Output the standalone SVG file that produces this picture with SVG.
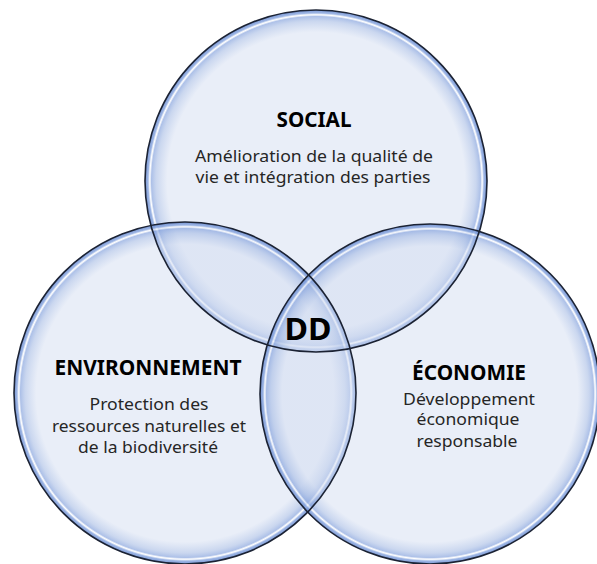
<svg xmlns="http://www.w3.org/2000/svg" width="597" height="564" viewBox="0 0 597 564">
<defs>
<radialGradient id="disk" cx="0.5" cy="0.5" r="0.5">
<stop offset="0" stop-color="#D3DDF1" stop-opacity="0.5"/>
<stop offset="0.87" stop-color="#D3DDF1" stop-opacity="0.5"/>
<stop offset="0.935" stop-color="#9FB6E2" stop-opacity="0.55"/>
<stop offset="0.962" stop-color="#8AA6DE" stop-opacity="0.7"/>
<stop offset="0.972" stop-color="#FFFFFF" stop-opacity="0.6"/>
<stop offset="0.982" stop-color="#86A4DE" stop-opacity="0.8"/>
<stop offset="1" stop-color="#6A8BCF" stop-opacity="0.9"/>
</radialGradient>
<circle id="cSocial" cx="316" cy="181" r="171"/>
<circle id="cEnv" cx="185" cy="393" r="171"/>
<circle id="cEco" cx="430" cy="394" r="170"/>
</defs>
<style>
.disk{fill:url(#disk)}
.outline{fill:none;stroke:#1B2233;stroke-width:1.6}
.title{font-family:"Noto Sans","Open Sans",sans-serif;font-weight:bold;font-size:20.5px;fill:#000;text-anchor:middle}
.body{font-family:"Noto Sans","Open Sans",sans-serif;font-size:16px;fill:#262626;text-anchor:middle}
.dd{font-family:"Noto Sans","Open Sans",sans-serif;font-weight:bold;font-size:31px;fill:#000;text-anchor:middle}
</style>
<rect width="597" height="564" fill="#FFFFFF"/>
<g id="social">
<use href="#cSocial" class="disk"/>
<text class="title" x="314" y="127" textLength="75" lengthAdjust="spacingAndGlyphs">SOCIAL</text>
<text class="body" x="314" y="162" textLength="238" lengthAdjust="spacingAndGlyphs">Amélioration de la qualité de</text>
<text class="body" x="313" y="183" textLength="235" lengthAdjust="spacingAndGlyphs">vie et intégration des parties</text>
</g>
<g id="environnement">
<use href="#cEnv" class="disk"/>
<text class="title" x="148" y="375" textLength="187" lengthAdjust="spacingAndGlyphs">ENVIRONNEMENT</text>
<text class="body" x="149" y="410" textLength="119" lengthAdjust="spacingAndGlyphs">Protection des</text>
<text class="body" x="149" y="432" textLength="194" lengthAdjust="spacingAndGlyphs">ressources naturelles et</text>
<text class="body" x="148" y="453" textLength="140" lengthAdjust="spacingAndGlyphs">de la biodiversité</text>
</g>
<g id="economie">
<use href="#cEco" class="disk"/>
<text class="title" x="469" y="380" textLength="114" lengthAdjust="spacingAndGlyphs">ÉCONOMIE</text>
<text class="body" x="469" y="405" textLength="132" lengthAdjust="spacingAndGlyphs">Développement</text>
<text class="body" x="468" y="425" textLength="103" lengthAdjust="spacingAndGlyphs">économique</text>
<text class="body" x="467" y="447" textLength="101" lengthAdjust="spacingAndGlyphs">responsable</text>
</g>
<g id="outlines">
<use href="#cSocial" class="outline"/>
<use href="#cEnv" class="outline"/>
<use href="#cEco" class="outline"/>
</g>
<g id="dd">
<text class="dd" x="308" y="340" textLength="47" lengthAdjust="spacingAndGlyphs">DD</text>
</g>
</svg>
